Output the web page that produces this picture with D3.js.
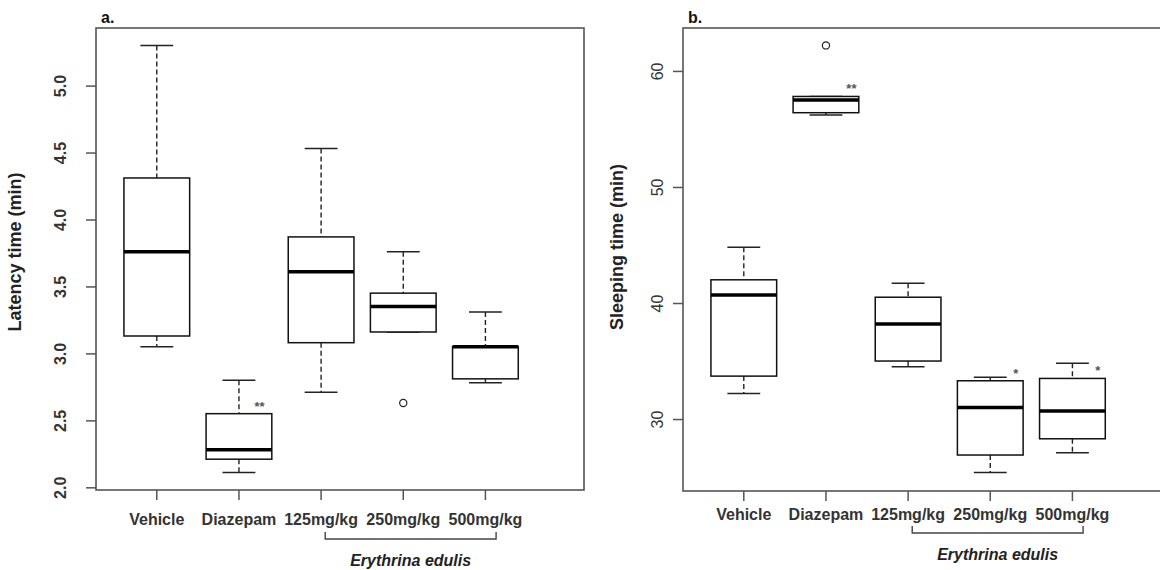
<!DOCTYPE html>
<html lang="en">
<head>
<meta charset="UTF-8">
<title>Latency and sleeping time</title>
<script src="https://cdn.jsdelivr.net/npm/d3@7/dist/d3.min.js"></script>
<style>
  body { margin: 0; background: #fff; }
  svg { font-family: "Liberation Sans", Arial, sans-serif; }
  .frame { fill: none; stroke: #555; stroke-width: 1.6; }
  .box { fill: #fff; stroke: #111; stroke-width: 1.5; }
  .med { stroke: #000; stroke-width: 3.5; }
  .whisk { stroke: #222; stroke-width: 1.4; stroke-dasharray: 5,3; }
  .cap { stroke: #222; stroke-width: 1.5; }
  .out { fill: none; stroke: #222; stroke-width: 1.2; }
</style>
</head>
<body>
<div id="chart"></div>
<script>
// groups shared by both panels
const groups = ["Vehicle", "Diazepam", "125mg/kg", "250mg/kg", "500mg/kg"];
const extractName = "Erythrina edulis";

// a. latency time (min)
const latLow  = [3.05, 2.11, 2.71, 3.16, 2.78];
const latQ1   = [3.13, 2.21, 3.08, 3.16, 2.81];
const latMed  = [3.76, 2.28, 3.61, 3.35, 3.05];
const latQ3   = [4.31, 2.55, 3.87, 3.45, 3.05];
const latHigh = [5.30, 2.80, 4.53, 3.76, 3.31];
const latOut  = [[], [], [], [2.63], []];
const latSig  = ["", "**", "", "", ""];
const latTicks = [2.0, 2.5, 3.0, 3.5, 4.0, 4.5, 5.0];

// b. sleeping time (min)
const slpLow  = [32.2, 56.2, 34.5, 25.4, 27.1];
const slpQ1   = [33.7, 56.4, 35.0, 26.9, 28.3];
const slpMed  = [40.7, 57.5, 38.2, 31.0, 30.7];
const slpQ3   = [42.0, 57.8, 40.5, 33.3, 33.5];
const slpHigh = [44.8, 57.8, 41.7, 33.6, 34.8];
const slpOut  = [[], [62.2], [], [], []];
const slpSig  = ["", "**", "", "*", "*"];
const slpTicks = [30, 40, 50, 60];

const width = 1160, height = 570;
const svg = d3.select('#chart').append('svg').attr('width', width).attr('height', height);

function panel(p) {
  const x = d3.scaleLinear().domain([0.26, 6.2]).range([p.left, p.left + 488]);
  const y = d3.scaleLinear().domain(p.ydom).range([p.bottom, 28]);
  const g = svg.append('g');
  // box 0.8 of a slot wide, whisker caps half of that
  const bw = x(1.8) - x(1), cw = x(1.4) - x(1);

  g.append('rect').attr('class', 'frame')
    .attr('x', p.left).attr('y', 28)
    .attr('width', 488).attr('height', p.bottom - 28);

  // y axis, labels turned like R's las=0
  const ax = g.append('g').attr('transform', `translate(${p.left},0)`)
    .call(d3.axisLeft(y).tickValues(p.ticks).tickFormat(p.fmt).tickSize(10));
  ax.select('.domain').remove();
  ax.selectAll('line').attr('stroke', '#555').attr('stroke-width', 1.5);
  ax.selectAll('text')
    .attr('transform', 'rotate(-90)')
    .attr('x', 0).attr('y', p.tickY).attr('dy', 0)
    .attr('text-anchor', 'middle')
    .attr('fill', '#333')
    .style('font-size', '16px')
    .style('font-weight', p.tickBold ? 'bold' : 'normal');

  g.append('text')
    .attr('transform', `translate(${p.titleX},${p.titleCY}) rotate(-90)`)
    .attr('text-anchor', 'middle').attr('fill', '#222')
    .style('font-size', '18px').style('font-weight', 'bold')
    .text(p.title);

  g.append('text').attr('x', p.left + 5).attr('y', 23)
    .attr('fill', '#111').style('font-size', '16px').style('font-weight', 'bold')
    .text(p.tag);

  // x ticks and group labels
  groups.forEach((name, i) => {
    const cx = x(i + 1);
    g.append('line').attr('x1', cx).attr('x2', cx)
      .attr('y1', p.bottom).attr('y2', p.bottom + 10)
      .attr('stroke', '#555').attr('stroke-width', 1.5);
    g.append('text').attr('x', cx).attr('y', p.labY)
      .attr('text-anchor', 'middle').attr('fill', '#333')
      .style('font-size', '16px').style('font-weight', 'bold')
      .text(name);
  });

  // boxes
  const d = groups.map((k, i) => ({
    i: i + 1, lo: p.lo[i], q1: p.q1[i], med: p.med[i], q3: p.q3[i], hi: p.hi[i],
    out: p.out[i], sig: p.sig[i]
  }));
  const b = g.selectAll('.grp').data(d).join('g');
  b.append('line').attr('class', 'whisk')
    .attr('x1', e => x(e.i)).attr('x2', e => x(e.i))
    .attr('y1', e => y(e.hi)).attr('y2', e => y(e.q3));
  b.append('line').attr('class', 'whisk')
    .attr('x1', e => x(e.i)).attr('x2', e => x(e.i))
    .attr('y1', e => y(e.q1)).attr('y2', e => y(e.lo));
  b.append('line').attr('class', 'cap')
    .attr('x1', e => x(e.i) - cw / 2).attr('x2', e => x(e.i) + cw / 2)
    .attr('y1', e => y(e.hi)).attr('y2', e => y(e.hi));
  b.append('line').attr('class', 'cap')
    .attr('x1', e => x(e.i) - cw / 2).attr('x2', e => x(e.i) + cw / 2)
    .attr('y1', e => y(e.lo)).attr('y2', e => y(e.lo));
  b.append('rect').attr('class', 'box')
    .attr('x', e => x(e.i) - bw / 2).attr('width', bw)
    .attr('y', e => y(e.q3)).attr('height', e => y(e.q1) - y(e.q3));
  b.append('line').attr('class', 'med')
    .attr('x1', e => x(e.i) - bw / 2).attr('x2', e => x(e.i) + bw / 2)
    .attr('y1', e => y(e.med)).attr('y2', e => y(e.med));
  b.selectAll('circle').data(e => e.out.map(v => ({ i: e.i, v }))).join('circle')
    .attr('class', 'out').attr('r', 3.6)
    .attr('cx', o => x(o.i)).attr('cy', o => y(o.v));
  b.append('text')
    .attr('x', e => x(e.i + p.sigDx)).attr('y', e => y(e.q3) - 3)
    .attr('text-anchor', 'middle').attr('fill', '#555')
    .style('font-size', '13px').style('font-weight', 'bold')
    .text(e => e.sig);

  // bracket under the extract doses
  const bx1 = x(3.05), bx2 = x(5.13);
  g.append('path')
    .attr('d', `M${bx1},${p.brY - 7}V${p.brY}H${bx2}V${p.brY - 7}`)
    .attr('fill', 'none').attr('stroke', '#444').attr('stroke-width', 1.4);
  g.append('text').attr('x', (bx1 + bx2) / 2).attr('y', p.brY + 27)
    .attr('text-anchor', 'middle').attr('fill', '#222')
    .style('font-size', '16px').style('font-weight', 'bold').style('font-style', 'italic')
    .text(extractName);
}

panel({
  left: 96, bottom: 490, ydom: [1.98, 5.43], ticks: latTicks, fmt: d3.format('.1f'),
  tickY: -30, tickBold: true, title: 'Latency time (min)', titleX: 21, titleCY: 252,
  tag: 'a.', labY: 525, brY: 539, sigDx: 0.25,
  lo: latLow, q1: latQ1, med: latMed, q3: latQ3, hi: latHigh, out: latOut, sig: latSig
});

panel({
  left: 683, bottom: 491, ydom: [23.8, 63.7], ticks: slpTicks, fmt: d3.format('d'),
  tickY: -20, tickBold: false, title: 'Sleeping time (min)', titleX: 623, titleCY: 247,
  tag: 'b.', labY: 520, brY: 533, sigDx: 0.31,
  lo: slpLow, q1: slpQ1, med: slpMed, q3: slpQ3, hi: slpHigh, out: slpOut, sig: slpSig
});
</script>
</body>
</html>
